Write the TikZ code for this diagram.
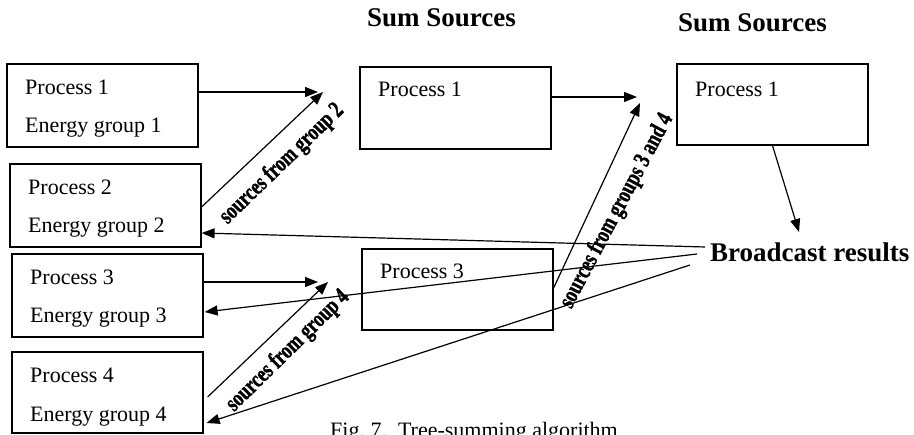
\documentclass[tikz,border=0pt]{standalone}
\usepackage{fontspec}
\setmainfont{Liberation Serif}
\newfontfamily\lblfont{Liberation Serif}[BoldFeatures={FakeBold=1.5}]
\usetikzlibrary{arrows.meta,calc}

\tikzset{
  box/.style={draw, line width=1.2pt, inner sep=0pt, minimum width=191pt},
  txt/.style={anchor=base west, inner sep=0pt, font=\fontsize{22}{26}\selectfont},
  head/.style={anchor=base west, inner sep=0pt, font=\bfseries\fontsize{27}{30}\selectfont},
  conn/.style={line width=1.2pt, -{Triangle[length=13pt,width=10pt]}},
  lbl/.style={inner sep=0pt, font=\lblfont\bfseries\fontsize{24}{24}\selectfont}
}

\begin{document}
\begin{tikzpicture}[x=1pt,y=-1pt]
\useasboundingbox (0,0) rectangle (914,435);

% column headings
\node[head] (h1) at (367,27) {Sum Sources};
\node[head] (h2) at (678,32) {Sum Sources};

% left column: one box per process
\node[box, minimum height=83pt] (a1) at (102.5,105.5) {};
\node[box, minimum height=83pt] (a2) at (105.5,205.5) {};
\node[box, minimum height=83pt] (a3) at (107.5,295.5) {};
\node[box, minimum height=81pt] (a4) at (107.5,392.5) {};
\node[txt] (a1p) at (25,95)  {Process 1};
\node[txt] (a1e) at (25,133) {Energy group 1};
\node[txt] (a2p) at (28,195) {Process 2};
\node[txt] (a2e) at (28,233) {Energy group 2};
\node[txt] (a3p) at (30,285) {Process 3};
\node[txt] (a3e) at (30,323) {Energy group 3};
\node[txt] (a4p) at (30,383) {Process 4};
\node[txt] (a4e) at (30,422) {Energy group 4};

% middle column
\node[box, minimum height=82pt] (b1) at (455.5,108) {};
\node[box, minimum height=81pt] (b3) at (457.5,289.5) {};
\node[txt] (b1p) at (378,97)  {Process 1};
\node[txt] (b3p) at (380,279) {Process 3};

% right column
\node[box, minimum height=81pt] (c1) at (772.5,104.5) {};
\node[txt] (c1p) at (695,97) {Process 1};

% broadcast label and the points its lines leave from
\node[head] (bc) at (710,262) {Broadcast results};
\coordinate (r2) at (705,247);
\coordinate (r3) at (697,254);
\coordinate (r4) at (690,265);

% summation points
\coordinate (s1h) at (318,92);
\coordinate (s1d) at (323,92);
\coordinate (s3h) at (318,282);
\coordinate (s3d) at (328,282);
\coordinate (u1h) at (637,97);
\coordinate (u1d) at (640,103);
\coordinate (dn) at (799,232);

% first level of the tree
\draw[conn] ([yshift=13.5pt]a1.east) -- (s1h);
\draw[conn] ([yshift=-1.5pt]a2.east) -- (s1d);
\draw[conn] ([yshift=13.5pt]a3.east) -- (s3h);
\draw[conn] ([xshift=4pt,yshift=-4.5pt]a4.east) -- (s3d);

% second level
\draw[conn] ([yshift=11pt]b1.east) -- (u1h);
\draw[conn] ([yshift=1.5pt]b3.east) -- (u1d);

% result goes back down to every group
\draw[conn] (c1.south) -- (dn);
\draw[conn] (r2) -- ([yshift=-27.5pt]a2.east);
\draw[conn] (r3) -- ([xshift=1pt,yshift=-16.5pt]a3.east);
\draw[conn] (r4) -- ([xshift=3pt,yshift=-30.5pt]a4.east);

% labels along the diagonal arrows
\node[lbl, rotate=44] (l2) at (282,164) {\scalebox{0.75}[1]{sources from group 2}};
\node[lbl, rotate=44.5] (l4) at (288,351) {\scalebox{0.75}[1]{sources from group 4}};
\node[lbl, rotate=62] (l34) at (617,211) {\scalebox{0.75}[1]{sources from groups 3 and 4}};

% caption
\node[txt] (cap) at (330,438) {Fig.~7.\ \ Tree-summing algorithm};
\end{tikzpicture}
\end{document}
